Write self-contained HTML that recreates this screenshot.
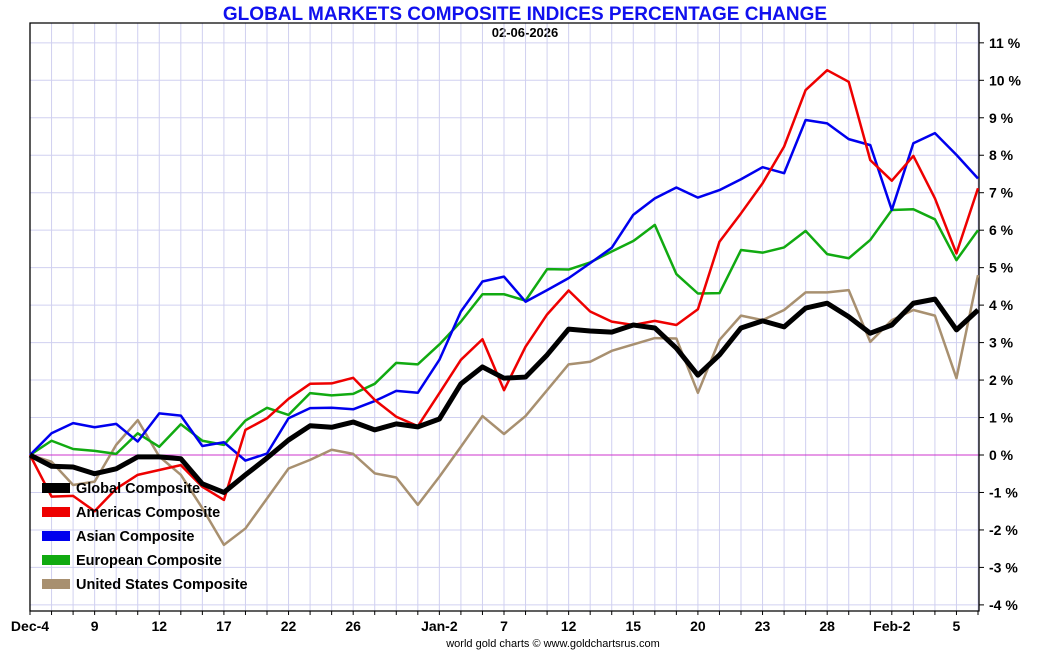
<!DOCTYPE html>
<html><head><meta charset="utf-8"><style>
body{margin:0;background:#fff;}
svg{display:block;font-family:"Liberation Sans",Arial,sans-serif;}
</style></head><body>
<svg id="chart" width="1050" height="650">
<text x="525" y="20" text-anchor="middle" font-size="19" font-weight="bold" fill="#1010ee">GLOBAL MARKETS COMPOSITE INDICES PERCENTAGE CHANGE</text>
<text x="525" y="37" text-anchor="middle" font-size="13" font-weight="bold" fill="#000">02-06-2026</text>
<g id="grid"></g>
<g id="axes"></g>
<g id="series"></g>
<g id="legend"></g>
<text x="553" y="647" text-anchor="middle" font-size="11" fill="#000">world gold charts © www.goldchartsrus.com</text>
</svg>
<script>
const xLabels = ["Dec-4","9","12","17","22","26","Jan-2","7","12","15","20","23","28","Feb-2","5"];
const xLabelIdx = [0,3,6,9,12,15,19,22,25,28,31,34,37,40,43];
const yTicks = [11,10,9,8,7,6,5,4,3,2,1,0,-1,-2,-3,-4];
const seriesNames = ["Global Composite","Americas Composite","Asian Composite","European Composite","United States Composite"];
const global = [0,-0.3,-0.32,-0.5,-0.37,-0.05,-0.05,-0.1,-0.77,-1.0,-0.53,-0.08,0.4,0.78,0.74,0.88,0.67,0.83,0.75,0.96,1.9,2.35,2.05,2.08,2.67,3.36,3.31,3.28,3.47,3.39,2.85,2.13,2.67,3.39,3.58,3.42,3.92,4.05,3.69,3.25,3.47,4.05,4.16,3.34,3.87];
const americas = [0,-1.11,-1.09,-1.5,-0.9,-0.53,-0.4,-0.27,-0.85,-1.2,0.67,0.98,1.5,1.9,1.91,2.06,1.47,1.02,0.77,1.65,2.54,3.09,1.73,2.89,3.75,4.39,3.83,3.56,3.47,3.58,3.47,3.89,5.69,6.45,7.25,8.23,9.74,10.27,9.96,7.87,7.32,7.98,6.85,5.38,7.12];
const asian = [0,0.58,0.85,0.74,0.83,0.36,1.11,1.05,0.24,0.34,-0.15,0.04,0.98,1.25,1.26,1.22,1.44,1.71,1.66,2.54,3.83,4.63,4.76,4.09,4.4,4.72,5.12,5.53,6.41,6.85,7.14,6.87,7.07,7.36,7.68,7.52,8.94,8.85,8.43,8.27,6.54,8.32,8.59,8.01,7.38];
const european = [0,0.38,0.16,0.11,0.03,0.58,0.22,0.82,0.38,0.27,0.92,1.26,1.07,1.65,1.59,1.63,1.9,2.46,2.42,2.95,3.56,4.29,4.29,4.12,4.96,4.95,5.14,5.43,5.71,6.14,4.83,4.31,4.32,5.47,5.4,5.54,5.98,5.36,5.25,5.74,6.54,6.56,6.29,5.2,6.0];
const unitedStates = [0,-0.18,-0.8,-0.71,0.27,0.93,-0.04,-0.53,-1.42,-2.4,-1.96,-1.16,-0.36,-0.13,0.14,0.03,-0.49,-0.6,-1.33,-0.58,0.22,1.04,0.56,1.04,1.73,2.42,2.49,2.78,2.95,3.12,3.11,1.66,3.07,3.72,3.6,3.87,4.34,4.34,4.4,3.02,3.6,3.87,3.72,2.05,4.8];

const NS="http://www.w3.org/2000/svg";
const L=30,R=979,T=23,B=611, N=global.length;
const xs=i=>L+i*(R-1-L)/(N-1);
const ys=v=>455-v*37.47;
function mk(tag,attrs,parent){const e=document.createElementNS(NS,tag);for(const k in attrs)e.setAttribute(k,attrs[k]);parent.appendChild(e);return e;}
const grid=document.getElementById('grid'),axes=document.getElementById('axes'),ser=document.getElementById('series'),leg=document.getElementById('legend');
for(let i=1;i<N;i++){const e=mk('line',{x1:xs(i),x2:xs(i),y1:T,y2:B,stroke:'#d0d0f0','stroke-width':1},grid);

}
yTicks.forEach(v=>{const y=ys(v);
if(v!==0){const g=mk('line',{x1:L,x2:R,y1:y,y2:y,stroke:'#d0d0f0','stroke-width':1},grid);

}
const t=mk('line',{x1:R,x2:R+5,y1:y,y2:y,stroke:'#000'},axes);


const tx=mk('text',{x:989,y:y+5,'font-size':14,'font-weight':'bold',fill:'#000'},axes);tx.textContent=v+' %';

});
const zl=mk('line',{x1:L,x2:R,y1:ys(0),y2:ys(0),stroke:'#cc33cc','stroke-width':1},axes);


const fr=mk('path',{d:`M${L} ${T}H${R}V${B}H${L}Z`,fill:'none',stroke:'#000','stroke-width':1.3},axes);


for(let i=0;i<N;i++){const t=mk('line',{x1:xs(i),x2:xs(i),y1:B,y2:B+4,stroke:'#000'},axes);

}
xLabels.forEach((s,k)=>{const t=mk('text',{x:xs(xLabelIdx[k]),y:631,'text-anchor':'middle','font-size':14,'font-weight':'bold',fill:'#000'},axes);t.textContent=s;

});
const defs=[[unitedStates,'#a89070',2.5,'united-states-line'],[european,'#11aa11',2.5,'european-line'],[asian,'#0000ee',2.5,'asian-line'],[americas,'#ee0000',2.5,'americas-line'],[global,'#000',5,'global-line']];
defs.forEach(([d,c,w,n])=>{const p=mk('polyline',{points:d.map((v,i)=>xs(i)+','+ys(v)).join(' '),fill:'none',stroke:c,'stroke-width':w,'stroke-linejoin':'round'},ser);

});
const legCols=['#000','#ee0000','#0000ee','#11aa11','#a89070'];
seriesNames.forEach((s,k)=>{const y=488+k*24;
const sw=mk('rect',{x:42,y:y-5,width:28,height:10,fill:legCols[k]},leg);


const t=mk('text',{x:76,y:y+5,'font-size':14.5,'font-weight':'bold',fill:'#000'},leg);t.textContent=s;

});
</script>
</body></html>
